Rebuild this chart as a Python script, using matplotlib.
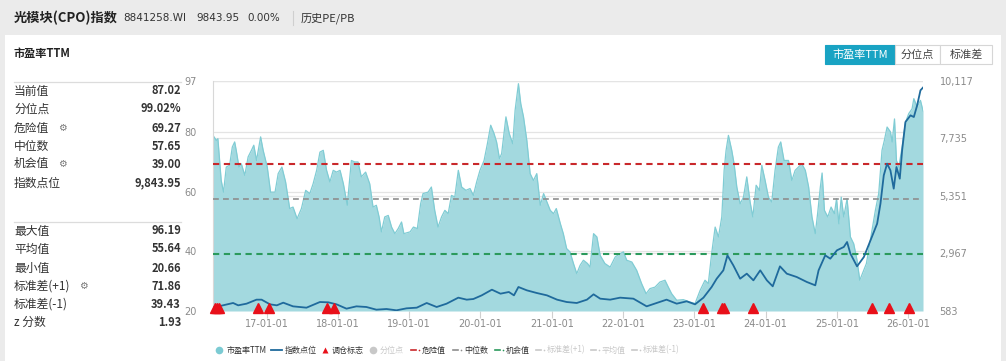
import matplotlib
matplotlib.use('Agg')
import matplotlib.pyplot as plt
import matplotlib.dates as mdates
import matplotlib.transforms as mtrans
from matplotlib.patches import Rectangle
from matplotlib.ticker import FuncFormatter
import pandas as pd

plt.rcParams['font.family'] = ['Noto Sans CJK SC', 'DejaVu Sans']

# ---------------- data ----------------
pe_dates = ['2016-04-01', '2016-04-18', '2016-04-26', '2016-05-13', '2016-05-25', '2016-06-08', '2016-06-25',
            '2016-07-09', '2016-07-21', '2016-07-29', '2016-08-12', '2016-08-24', '2016-09-11', '2016-09-28',
            '2016-10-15', '2016-10-27', '2016-11-10', '2016-12-01', '2016-12-14', '2017-01-04', '2017-01-21',
            '2017-02-13', '2017-03-01', '2017-03-20', '2017-04-08', '2017-04-29', '2017-05-16', '2017-06-06',
            '2017-06-28', '2017-07-20', '2017-08-10', '2017-08-27', '2017-09-14', '2017-10-01', '2017-10-18',
            '2017-11-04', '2017-11-21', '2017-12-08', '2017-12-25', '2018-01-12', '2018-01-29', '2018-02-18',
            '2018-03-11', '2018-03-28', '2018-04-14', '2018-05-01', '2018-05-23', '2018-06-13', '2018-06-30',
            '2018-07-17', '2018-07-31', '2018-08-12', '2018-08-29', '2018-09-16', '2018-10-03', '2018-10-20',
            '2018-11-06', '2018-11-23', '2018-12-05', '2019-01-06', '2019-01-23', '2019-02-12', '2019-03-01',
            '2019-03-13', '2019-04-08', '2019-04-25', '2019-05-12', '2019-05-29', '2019-06-16', '2019-07-03',
            '2019-07-20', '2019-08-06', '2019-08-23', '2019-09-10', '2019-09-27', '2019-10-19', '2019-11-09',
            '2019-11-26', '2019-12-13', '2019-12-30', '2020-01-20', '2020-02-06', '2020-02-23', '2020-03-11',
            '2020-03-24', '2020-04-08', '2020-04-19', '2020-05-11', '2020-05-28', '2020-06-15', '2020-06-27',
            '2020-07-14', '2020-07-26', '2020-08-09', '2020-08-26', '2020-09-12', '2020-09-29', '2020-10-16',
            '2020-11-03', '2020-11-20', '2020-12-07', '2020-12-24', '2021-01-10', '2021-01-24', '2021-02-14',
            '2021-03-01', '2021-03-18', '2021-04-04', '2021-04-22', '2021-05-09', '2021-05-26', '2021-06-12',
            '2021-07-03', '2021-07-16', '2021-08-03', '2021-08-20', '2021-09-06', '2021-09-30', '2021-10-27',
            '2021-11-22', '2021-12-17', '2022-01-03', '2022-01-20', '2022-02-15', '2022-03-12', '2022-04-06',
            '2022-04-29', '2022-05-19', '2022-06-14', '2022-07-09', '2022-08-04', '2022-08-21', '2022-09-07',
            '2022-10-03', '2022-11-06', '2022-12-10', '2023-01-05', '2023-01-31', '2023-02-25', '2023-03-14',
            '2023-03-31', '2023-04-18', '2023-05-05', '2023-05-22', '2023-06-03', '2023-06-13', '2023-06-25',
            '2023-07-12', '2023-07-24', '2023-08-07', '2023-08-24', '2023-09-10', '2023-09-27', '2023-10-14',
            '2023-10-28', '2023-11-14', '2023-12-01', '2023-12-13', '2023-12-30', '2024-01-16', '2024-02-02',
            '2024-02-19', '2024-03-07', '2024-03-19', '2024-04-05', '2024-04-28', '2024-05-15', '2024-06-01',
            '2024-06-18', '2024-07-05', '2024-07-23', '2024-08-09', '2024-08-26', '2024-09-12', '2024-09-24',
            '2024-10-08', '2024-10-17', '2024-10-29', '2024-11-15', '2024-12-02', '2024-12-19', '2024-12-30',
            '2025-01-11', '2025-01-23', '2025-02-05', '2025-02-22', '2025-03-11', '2025-03-28', '2025-04-14',
            '2025-04-28', '2025-05-15', '2025-06-01', '2025-06-18', '2025-07-05', '2025-07-17', '2025-08-03',
            '2025-08-20', '2025-09-01', '2025-09-15', '2025-10-02', '2025-10-11', '2025-10-23', '2025-11-02',
            '2025-11-14', '2025-12-01', '2025-12-18', '2026-01-04', '2026-01-21', '2026-01-30', '2026-02-16',
            '2026-03-05', '2026-03-18']
pe_values = [78.8, 77.1, 77.7, 63.7, 59.8, 68.2, 68.8,
             74.9, 76.6, 73.8, 68.2, 69.3, 65.4, 71.6,
             73.8, 75.5, 70.4, 78.3, 73.8, 68.2, 59.8,
             59.8, 66.0, 68.2, 63.2, 54.3, 54.8, 50.9,
             54.3, 60.4, 59.3, 62.6, 67.1, 73.2, 73.8,
             67.1, 63.2, 67.1, 66.5, 67.1, 62.6, 55.4,
             70.4, 69.9, 69.9, 64.9, 66.5, 62.6, 54.8,
             55.4, 51.5, 46.5, 51.5, 52.0, 48.1, 45.9,
             47.6, 49.8, 45.9, 46.5, 48.1, 47.6, 55.9,
             59.3, 59.8, 61.5, 53.7, 48.1, 51.5, 53.7,
             52.6, 58.7, 58.2, 67.1, 61.5, 60.4, 61.0,
             58.7, 63.2, 67.1, 70.4, 76.0, 82.2, 79.4,
             76.6, 71.0, 72.7, 85.0, 79.4, 76.0, 87.2,
             96.1, 89.4, 85.0, 77.1, 66.0, 63.7, 66.0,
             55.4, 59.3, 56.5, 53.7, 52.6, 54.3, 49.2,
             45.9, 40.9, 39.8, 35.9, 32.5, 35.3, 37.0,
             35.9, 34.7, 45.9, 44.8, 38.6, 35.9, 34.7,
             38.1, 39.2, 39.8, 37.0, 36.4, 33.6, 29.2,
             25.8, 27.5, 28.0, 29.7, 30.3, 28.0, 25.8,
             23.6, 23.8, 23.0, 22.5, 26.9, 30.3, 29.2,
             39.2, 48.1, 44.8, 51.5, 67.1, 73.8, 78.8,
             73.8, 69.3, 61.5, 55.9, 58.1, 64.9, 56.5,
             51.5, 62.1, 60.4, 68.8, 63.7, 58.1, 56.5,
             67.1, 74.9, 76.6, 70.4, 70.4, 63.7, 67.1,
             68.2, 69.3, 67.1, 61.5, 51.5, 45.9, 52.6,
             61.5, 66.2, 53.7, 51.5, 54.8, 52.6, 57.6,
             49.2, 58.1, 51.5, 57.6, 44.8, 42.5, 37.0,
             30.3, 33.1, 35.9, 42.5, 49.2, 53.7, 59.3,
             73.8, 77.1, 81.6, 80.0, 76.6, 84.3, 70.4,
             68.2, 74.9, 83.1, 86.1, 87.7, 91.1, 88.3,
             90.5, 87.0]

idx_dates = ['2016-04-01', '2016-05-22', '2016-07-13', '2016-08-08', '2016-09-20', '2016-11-10', '2016-12-06',
             '2017-01-18', '2017-02-22', '2017-03-27', '2017-05-16', '2017-07-24', '2017-10-01', '2017-11-13',
             '2017-12-25', '2018-02-14', '2018-04-06', '2018-05-27', '2018-07-17', '2018-09-07', '2018-10-28',
             '2018-12-19', '2019-02-09', '2019-04-01', '2019-05-22', '2019-07-12', '2019-09-10', '2019-10-23',
             '2019-11-26', '2020-01-08', '2020-02-29', '2020-04-13', '2020-05-26', '2020-06-21', '2020-07-14',
             '2020-08-26', '2020-10-16', '2020-12-07', '2021-01-28', '2021-03-18', '2021-05-09', '2021-06-30',
             '2021-08-03', '2021-09-06', '2021-10-27', '2021-12-17', '2022-02-23', '2022-05-02', '2022-06-22',
             '2022-08-12', '2022-10-03', '2022-11-23', '2023-01-05', '2023-02-17', '2023-03-31', '2023-04-26',
             '2023-05-30', '2023-06-20', '2023-07-20', '2023-08-24', '2023-09-27', '2023-10-31', '2023-12-05',
             '2024-01-08', '2024-02-07', '2024-03-15', '2024-04-19', '2024-06-09', '2024-07-31', '2024-09-12',
             '2024-09-29', '2024-11-02', '2024-11-28', '2025-01-01', '2025-02-05', '2025-02-22', '2025-03-11',
             '2025-04-14', '2025-05-19', '2025-06-22', '2025-07-26', '2025-08-12', '2025-08-29', '2025-09-15',
             '2025-10-02', '2025-10-19', '2025-11-02', '2025-11-19', '2025-12-01', '2025-12-18', '2026-01-13',
             '2026-01-30', '2026-02-16', '2026-03-05', '2026-03-18']
idx_values = [721, 818, 915, 818, 887, 1053, 1053,
              859, 818, 928, 776, 721, 956, 942,
              859, 680, 776, 749, 638, 666, 611,
              694, 721, 915, 749, 887, 1136, 1053,
              1080, 1232, 1467, 1301, 1371, 1232, 1578,
              1440, 1329, 1232, 1053, 956, 915, 1053,
              1274, 1094, 1053, 1136, 1094, 776, 915,
              1053, 887, 984, 859, 1136, 1578, 1923,
              2269, 2890, 2476, 1923, 2131, 1854, 2269,
              1854, 1606, 2434, 2131, 1992, 1785, 1647,
              2269, 2890, 2752, 3098, 3236, 3443, 2960,
              2434, 2821, 3512, 4203, 5032, 6206, 6690,
              6414, 5654, 6552, 6068, 7242, 8417, 8693,
              8624, 9108, 9730, 9844]

marker_dates = ['2016-04-09', '2016-04-20', '2016-05-04', '2016-11-20', '2017-01-11', '2017-11-04', '2017-12-14',
                '2023-02-15', '2023-05-22', '2023-06-01', '2023-10-29', '2025-07-01', '2025-09-26', '2026-01-07']

danger_value = 69.27
median_value = 57.65
chance_value = 39.00
pe_ticks = [20, 40, 60, 80, 97]
idx_ticks = [583, 2967, 5351, 7735, 10117]
x_ticks = ['2017-01-01', '2018-01-01', '2019-01-01', '2020-01-01', '2021-01-01',
           '2022-01-01', '2023-01-01', '2024-01-01', '2025-01-01', '2026-01-01']

title_name = '光模块(CPO)指数'
title_info = ['8841258.WI', '9843.95', '0.00%']
title_link = '历史PE/PB'
panel_title = '市盈率TTM'
stat_labels_1 = ['当前值', '分位点', '危险值', '中位数', '机会值', '指数点位']
stat_values_1 = ['87.02', '99.02%', '69.27', '57.65', '39.00', '9,843.95']
stat_gear_1 = [False, False, True, False, True, False]
stat_labels_2 = ['最大值', '平均值', '最小值', '标准差(+1)', '标准差(-1)', 'z 分数']
stat_values_2 = ['96.19', '55.64', '20.66', '71.86', '39.43', '1.93']
stat_gear_2 = [False, False, False, True, False, False]
buttons = ['市盈率TTM', '分位点', '标准差']
legend_labels = ['市盈率TTM', '指数点位', '调仓标志', '分位点', '危险值', '中位数', '机会值',
                 '标准差(+1)', '平均值', '标准差(-1)']

# ---------------- styles ----------------
FILL = '#a3d9df'
EDGE = '#80ccd4'
IDX = '#1f6a9c'
RED = '#c9282b'
GRAY = '#8e8e8e'
GREEN = '#2b9a5c'
MARK = '#e8101a'
TEAL = '#19a3c3'
TXT = '#333333'
TICK = '#8a8a8a'
FADE = '#c8c8c8'

W, H = 1006, 361
fig = plt.figure(figsize=(W / 100, H / 100), dpi=100)
fig.patch.set_facecolor('#ebebeb')

bg = fig.add_axes([0, 0, 1, 1])
bg.set_xlim(0, W)
bg.set_ylim(H, 0)
bg.axis('off')
bg.set_zorder(0)

# white card
bg.add_patch(Rectangle((5, 35), 996, 330, facecolor='white', edgecolor='none'))

# header
bg.text(14, 18, title_name, fontsize=9.5, fontweight='bold', color='#222', va='center', ha='left')
bg.text(123, 18, title_info[0], fontsize=7.5, color='#333', va='center', ha='left', family='DejaVu Sans')
bg.text(196, 18, title_info[1], fontsize=7.5, color='#333', va='center', ha='left', family='DejaVu Sans')
bg.text(247, 18, title_info[2], fontsize=7.5, color='#333', va='center', ha='left', family='DejaVu Sans')
bg.plot([293, 293], [11, 25], color='#cfcfcf', lw=0.8)
bg.text(301, 18, title_link, fontsize=8, color='#333', va='center', ha='left')

# left stats panel
bg.text(14, 54, panel_title, fontsize=8, fontweight='bold', color='#222', va='center', ha='left')
bg.plot([14, 181], [82, 82], color='#dcdcdc', lw=0.9)
bg.plot([14, 181], [222, 222], color='#dcdcdc', lw=0.9)
row_y1 = [91, 109, 128, 146, 164, 183]
row_y2 = [231, 249, 268, 286, 304, 322]
gear_x1 = 62
gear_x2 = 83
for lab, val, gear, y in zip(stat_labels_1, stat_values_1, stat_gear_1, row_y1):
    bg.text(14, y, lab, fontsize=8.5, color=TXT, va='center', ha='left')
    bg.text(181, y, val, fontsize=8, color=TXT, fontweight='bold', va='center', ha='right')
    if gear:
        bg.text(gear_x1, y, '⚙', fontsize=7, color='#777', va='center', ha='center', family='DejaVu Sans')
for lab, val, gear, y in zip(stat_labels_2, stat_values_2, stat_gear_2, row_y2):
    bg.text(14, y, lab, fontsize=8.5, color=TXT, va='center', ha='left')
    bg.text(181, y, val, fontsize=8, color=TXT, fontweight='bold', va='center', ha='right')
    if gear:
        bg.text(gear_x2, y, '⚙', fontsize=7, color='#777', va='center', ha='center', family='DejaVu Sans')

# buttons
btn_x = [(825, 895), (895, 940), (940, 992)]
for i, (lab, (x0, x1)) in enumerate(zip(buttons, btn_x)):
    active = i == 0
    bg.add_patch(Rectangle((x0, 45), x1 - x0, 19, facecolor=TEAL if active else 'white',
                           edgecolor=TEAL if active else '#d6d6d6', lw=0.8))
    bg.text((x0 + x1) / 2, 54.5, lab, fontsize=8, color='white' if active else '#444',
            va='center', ha='center')

# ---------------- main chart ----------------
L, R, T, B = 213, 923, 81, 311
ax = fig.add_axes([L / W, (H - B) / H, (R - L) / W, (B - T) / H])
ax.set_zorder(1)
ax.patch.set_alpha(0)

pd_dates = pd.to_datetime(pe_dates)
ax.fill_between(pd_dates, pe_values, pe_ticks[0], color=FILL, lw=0, zorder=2)
ax.plot(pd_dates, pe_values, color=EDGE, lw=0.9, zorder=2.5)

ax.axhline(danger_value, color=RED, lw=1.5, dashes=(3, 2.2), zorder=3)
ax.axhline(median_value, color=GRAY, lw=1.2, dashes=(3.5, 2.5), zorder=3)
ax.axhline(chance_value, color=GREEN, lw=1.5, dashes=(3, 2.2), zorder=3)

ax.set_ylim(pe_ticks[0], pe_ticks[-1])
ax.set_xlim(pd_dates[0], pd_dates[-1])
ax.set_yticks(pe_ticks)
ax.yaxis.grid(True, color='#e4e4e4', lw=0.9, zorder=0)
ax.set_axisbelow(True)
ax.set_xticks(pd.to_datetime(x_ticks))
ax.xaxis.set_major_formatter(mdates.DateFormatter('%y-%m-%d'))
ax.tick_params(axis='x', length=5, color='#d0d0d0', labelsize=7, labelcolor=TICK, pad=1)
ax.tick_params(axis='y', length=0, labelsize=7, labelcolor=TICK, pad=12)
for s in ['top', 'right', 'bottom']:
    ax.spines[s].set_visible(False)
ax.spines['left'].set_color('#d8d8d8')
ax.spines['left'].set_linewidth(0.8)
for lbl in ax.get_xticklabels() + ax.get_yticklabels():
    lbl.set_family('DejaVu Sans')

ax2 = ax.twinx()
ax2.set_ylim(idx_ticks[0], idx_ticks[-1])
ax2.set_yticks(idx_ticks)
ax2.yaxis.set_major_formatter(FuncFormatter(lambda v, p: f'{int(round(v)):,}'))
ax2.tick_params(axis='y', length=0, labelsize=7, labelcolor=TICK, pad=12)
for s in ax2.spines.values():
    s.set_visible(False)
for lbl in ax2.get_yticklabels():
    lbl.set_family('DejaVu Sans')

# right-axis grid lines drawn beneath the area
blend = mtrans.blended_transform_factory(ax.transAxes, ax2.transData)
for v in idx_ticks[1:]:
    ax.plot([0, 1], [v, v], transform=blend, color='#e4e4e4', lw=0.9, zorder=1)

ax2.plot(pd.to_datetime(idx_dates), idx_values, color=IDX, lw=1.3, zorder=4)
up = mtrans.offset_copy(ax2.transData, fig=fig, x=0, y=3, units='dots')
ax2.plot(pd.to_datetime(marker_dates), [idx_ticks[0]] * len(marker_dates), ls='none', marker='^',
         ms=6.5, color=MARK, mec=MARK, clip_on=False, zorder=6, transform=up)

# ---------------- legend ----------------
ly = 350
fs = 5.8
bg.plot(219, ly, 'o', ms=5.5, color='#7ccbd3', mec='none')
bg.text(227, ly, legend_labels[0], fontsize=fs, color=TXT, va='center')
bg.plot([271, 282], [ly, ly], color=IDX, lw=1.3)
bg.text(285, ly, legend_labels[1], fontsize=fs, color=TXT, va='center')
bg.plot(325, ly, '^', ms=5, color=MARK, mec='none')
bg.text(332, ly, legend_labels[2], fontsize=fs, color=TXT, va='center')
bg.plot(373, ly, 'o', ms=5.5, color=FADE, mec='none')
bg.text(380, ly, legend_labels[3], fontsize=fs, color=FADE, va='center')
dash_items = [(411, RED, 4, TXT), (453, GRAY, 5, TXT), (495, GREEN, 6, TXT),
              (536, FADE, 7, FADE), (591, FADE, 8, FADE), (632, FADE, 9, FADE)]
for x0, col, li, tc in dash_items:
    bg.plot([x0, x0 + 5], [ly, ly], color=col, lw=1.2)
    bg.plot(x0 + 8, ly, 'o', ms=1.2, color=col, mec='none')
    bg.text(x0 + 11, ly, legend_labels[li], fontsize=fs, color=tc, va='center')

fig.savefig('out.png', dpi=100, facecolor=fig.get_facecolor())
